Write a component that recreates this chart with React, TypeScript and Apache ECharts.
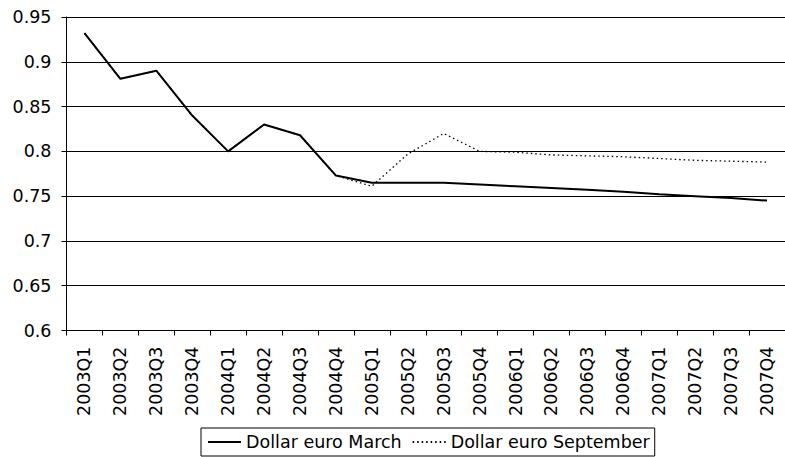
import React, { useEffect, useRef } from "react";
import * as echarts from "echarts";

const categories = [
  "2003Q1", "2003Q2", "2003Q3", "2003Q4",
  "2004Q1", "2004Q2", "2004Q3", "2004Q4",
  "2005Q1", "2005Q2", "2005Q3", "2005Q4",
  "2006Q1", "2006Q2", "2006Q3", "2006Q4",
  "2007Q1", "2007Q2", "2007Q3", "2007Q4",
];

const marchValues = [
  0.932, 0.881, 0.89, 0.84,
  0.8, 0.83, 0.818, 0.773,
  0.765, 0.765, 0.765, 0.763,
  0.761, 0.759, 0.757, 0.755,
  0.752, 0.75, 0.748, 0.745,
];

const septemberValues = [
  0.932, 0.881, 0.89, 0.84,
  0.8, 0.83, 0.818, 0.773,
  0.761, 0.797, 0.82, 0.8,
  0.799, 0.796, 0.795, 0.794,
  0.792, 0.79, 0.789, 0.788,
];

const seriesNames = ["Dollar euro March", "Dollar euro September"];

const FONT = "'DejaVu Sans', 'Liberation Sans', Arial, sans-serif";
const FS = 17.5;

export default function App() {
  const ref = useRef<HTMLDivElement>(null);

  useEffect(() => {
    if (!ref.current) return;
    const chart = echarts.init(ref.current, undefined, { renderer: "svg" });
    chart.setOption({
      animation: false,
      backgroundColor: "#ffffff",
      textStyle: { fontFamily: FONT },
      grid: { left: 66.5, top: 17, right: -8, bottom: 126.5, containLabel: false },
      legend: {
        left: 201,
        top: 428,
        orient: "horizontal",
        borderColor: "#000",
        borderWidth: 1,
        padding: [5, 5, 5, 6],
        itemGap: 10,
        itemWidth: 33,
        itemHeight: 14,
        itemStyle: { opacity: 0 },
        textStyle: { fontFamily: FONT, fontSize: FS, color: "#000" },
        data: seriesNames,
      },
      xAxis: {
        type: "category",
        data: categories,
        boundaryGap: true,
        axisLine: { lineStyle: { color: "#000", width: 1 } },
        axisTick: { show: true, length: 5, lineStyle: { color: "#000" }, alignWithLabel: false },
        axisLabel: {
          rotate: 90,
          interval: 0,
          margin: 16,
          fontSize: FS,
          fontFamily: FONT,
          color: "#000",
        },
        splitLine: { show: false },
      },
      yAxis: {
        type: "value",
        min: 0.6,
        max: 0.95,
        interval: 0.05,
        axisLine: { show: true, lineStyle: { color: "#000", width: 1 } },
        axisTick: { show: true, length: 5, lineStyle: { color: "#000" } },
        axisLabel: {
          margin: 15,
          fontSize: FS,
          fontFamily: FONT,
          color: "#000",
          formatter: (v: number) => String(Math.round(v * 100) / 100),
        },
        splitLine: { show: true, lineStyle: { color: "#000", width: 1 } },
      },
      series: [
        {
          name: seriesNames[1],
          type: "line",
          data: septemberValues,
          symbol: "none",
          showSymbol: false,
          lineStyle: { color: "#000", width: 1.3, type: [1.5, 3] },
          itemStyle: { color: "#000" },
          z: 2,
        },
        {
          name: seriesNames[0],
          type: "line",
          data: marchValues,
          symbol: "none",
          showSymbol: false,
          lineStyle: { color: "#000", width: 2, type: "solid" },
          itemStyle: { color: "#000" },
          z: 3,
        },
      ],
    });
    return () => chart.dispose();
  }, []);

  return (
    <div
      ref={ref}
      style={{ position: "fixed", left: 0, top: 0, width: 785, height: 457, background: "#fff" }}
    />
  );
}
